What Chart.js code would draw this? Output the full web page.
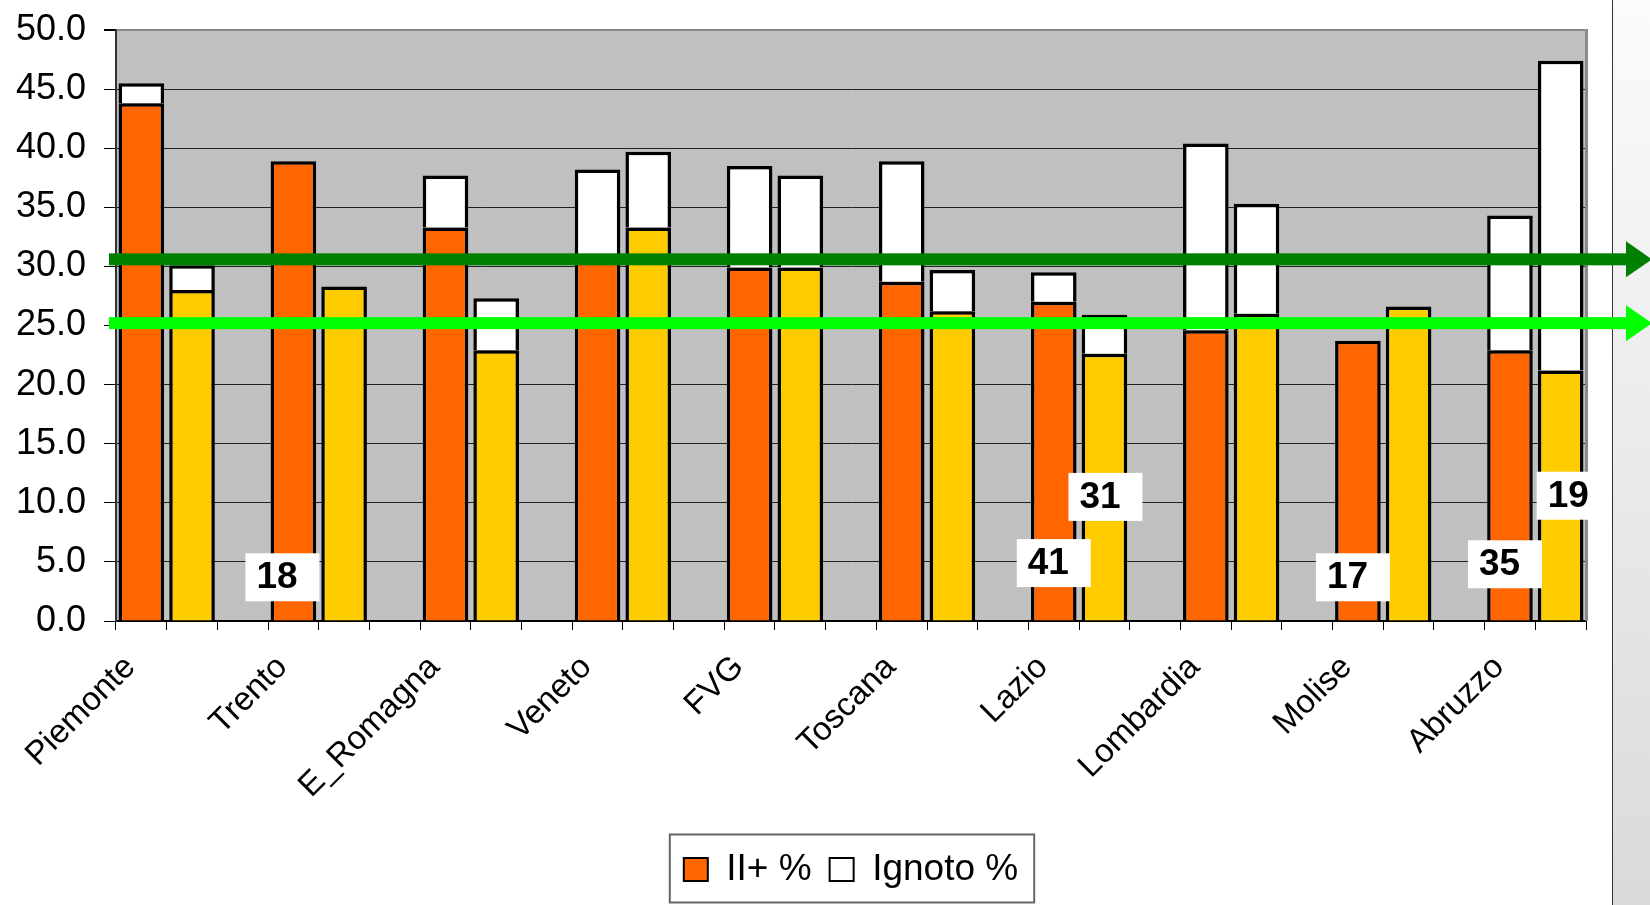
<!DOCTYPE html>
<html>
<head>
<meta charset="utf-8">
<title>II+ % / Ignoto %</title>
<script src="https://cdn.jsdelivr.net/npm/chart.js@4.4.0/dist/chart.umd.min.js"></script>
<style>
  html, body { margin: 0; padding: 0; background: #fff; }
  canvas { display: block; }
</style>
</head>
<body>
<canvas id="myChart" width="1650" height="905"></canvas>
<script>
// regions, two bars each (orange = first group, yellow = second group)
const regions = ['Piemonte', 'Trento', 'E_Romagna', 'Veneto', 'FVG', 'Toscana', 'Lazio', 'Lombardia', 'Molise', 'Abruzzo'];
const iiPlusOrange = [43.8, 38.9, 33.3, 30.6, 29.9, 28.7, 27.0, 24.6, 23.7, 22.9];
const iiPlusYellow = [28.0, 28.3, 22.9, 33.3, 29.9, 26.2, 22.6, 26.0, 26.6, 21.2];
const ignotoOrange = [1.7, 0, 4.4, 7.6, 8.6, 10.2, 2.5, 15.8, 0, 11.4];
const ignotoYellow = [2.1, 0, 4.4, 6.4, 7.8, 3.5, 3.3, 9.3, 0, 26.2];
const yTicks = [0, 5, 10, 15, 20, 25, 30, 35, 40, 45, 50];
const refLines = [30.6, 25.2];

// numbers in the white text boxes, and the bar they sit on
const boxTexts = ['18', '41', '31', '17', '35', '19'];
const boxRegion = ['Trento', 'Lazio', 'Lazio', 'Molise', 'Abruzzo', 'Abruzzo'];
const boxGroup = [0, 0, 1, 0, 0, 1];

// hand placement of those boxes (value for centre, px shift from bar centre)
const boxPlace = [[3.7, -11], [4.9, 0], [10.5, 1], [3.7, -5], [4.8, -5], [10.6, 13]];

const ORANGE = '#FF6600';
const YELLOW = '#FFCC00';
const FONT = "'Liberation Sans', Arial, sans-serif";

// 3 slots per region (orange, yellow, empty), no empty slot after the last one
var slotLabels = [], iiSlots = [], ignSlots = [], slotColors = [];
regions.forEach((r, i) => {
    slotLabels.push(r, '');
    iiSlots.push(iiPlusOrange[i], iiPlusYellow[i]);
    ignSlots.push(ignotoOrange[i], ignotoYellow[i]);
    slotColors.push(ORANGE, YELLOW);
    if (i < regions.length - 1) {
        slotLabels.push('');
        iiSlots.push(null);
        ignSlots.push(null);
        slotColors.push('rgba(0,0,0,0)');
    }
});

const decor = {
    id: 'decor',
    beforeDraw(chart) {
        const {ctx, chartArea: a, width, height} = chart;
        ctx.save();
        // slide edge on the right
        var g = ctx.createLinearGradient(0, 0, 0, height);
        g.addColorStop(0, '#fbfbfb');
        g.addColorStop(1, '#dadada');
        ctx.fillStyle = g;
        ctx.fillRect(1612, 0, width - 1612, height);
        ctx.fillStyle = '#333';
        ctx.fillRect(1612, 0, 1, height);
        // plot background
        ctx.fillStyle = '#C0C0C0';
        ctx.fillRect(a.left, a.top, a.right - a.left, a.bottom - a.top);
        ctx.restore();
    },
    beforeDatasetsDraw(chart) {
        const {ctx, chartArea: a} = chart;
        ctx.save();
        ctx.fillStyle = '#8a8a8a';
        ctx.fillRect(a.right - 1, a.top - 1, 3, a.bottom - a.top + 1);
        ctx.restore();
    },
    afterDatasetsDraw(chart) {
        const {ctx, chartArea: a, width} = chart;
        const xs = chart.scales.x, ys = chart.scales.y;
        ctx.save();
        // text boxes
        ctx.beginPath();
        ctx.rect(0, 0, a.right + 2, chart.height);
        ctx.clip();
        ctx.font = 'bold 37px ' + FONT;
        ctx.textBaseline = 'middle';
        ctx.textAlign = 'left';
        boxTexts.forEach((t, i) => {
            const slot = regions.indexOf(boxRegion[i]) * 3 + boxGroup[i];
            const cx = xs.getPixelForValue(slot) + boxPlace[i][1];
            const cy = ys.getPixelForValue(boxPlace[i][0]);
            ctx.fillStyle = '#fff';
            ctx.fillRect(cx - 37, cy - 24, 74, 48);
            ctx.fillStyle = '#000';
            ctx.fillText(t, cx - 26, cy + 1);
        });
        ctx.restore();

        // reference arrows
        ctx.save();
        const arrowColors = ['#008000', '#00FF00'];
        refLines.forEach((v, i) => {
            const y = ys.getPixelForValue(v);
            const x0 = a.left - 7, xHead = width - 24;
            ctx.fillStyle = arrowColors[i];
            ctx.fillRect(x0, y - 6, xHead - x0, 12);
            ctx.beginPath();
            ctx.moveTo(xHead, y - 18);
            ctx.lineTo(width + 2, y);
            ctx.lineTo(xHead, y + 18);
            ctx.closePath();
            ctx.fill();
        });
        ctx.restore();
    },
    afterDraw(chart) {
        // frame round the legend
        const boxes = chart.legend.legendHitBoxes;
        if (!boxes || !boxes.length) return;
        const first = boxes[0], last = boxes[boxes.length - 1];
        const cy = first.top + first.height / 2;
        const ctx = chart.ctx;
        ctx.save();
        ctx.strokeStyle = '#666';
        ctx.lineWidth = 2;
        ctx.strokeRect(first.left - 14, cy - 35, last.left + last.width + 16 - (first.left - 14), 68);
        ctx.restore();
    }
};

const data = {
    labels: slotLabels,
    datasets: [
        {
            label: 'II+ %',
            data: iiSlots,
            backgroundColor: slotColors,
            borderColor: '#000',
            borderWidth: 3.5,
            stack: 's'
        },
        {
            label: 'Ignoto %',
            data: ignSlots,
            backgroundColor: '#FFFFFF',
            borderColor: '#000',
            borderWidth: 3.5,
            stack: 's'
        }
    ]
};

const config = {
    type: 'bar',
    data: data,
    options: {
        responsive: false,
        animation: false,
        devicePixelRatio: 1,
        barPercentage: 0.9,
        categoryPercentage: 1,
        layout: { padding: { top: 30, right: 64, bottom: 7, left: 0 } },
        scales: {
            x: {
                stacked: true,
                afterFit: (s) => { s.height = 212; },
                border: { display: true, color: '#000', width: 2 },
                grid: {
                    offset: true,
                    drawOnChartArea: false,
                    drawTicks: true,
                    tickLength: 9,
                    tickColor: '#000',
                    color: '#000'
                },
                ticks: {
                    autoSkip: false,
                    minRotation: 45,
                    maxRotation: 45,
                    padding: 18,
                    labelOffset: -11,
                    color: '#000',
                    font: { family: FONT, size: 33 }
                }
            },
            y: {
                stacked: true,
                min: 0,
                max: 50,
                afterFit: (s) => {
                    s.width = 116;
                    // keep label overhang from pushing the plot down
                    s.paddingTop = 0;
                    s.paddingBottom = 0;
                },
                afterBuildTicks: (s) => { s.ticks = yTicks.map(v => ({ value: v })); },
                border: { display: true, color: '#333', width: 2 },
                grid: {
                    color: (c) => c.tick && c.tick.value === 50 ? '#8a8a8a' : '#222',
                    lineWidth: (c) => c.tick && c.tick.value === 50 ? 2 : 1,
                    tickLength: 12,
                    tickColor: '#000'
                },
                ticks: {
                    padding: 18,
                    color: '#000',
                    font: { family: FONT, size: 36 },
                    callback: (v) => Number(v).toFixed(1)
                }
            }
        },
        plugins: {
            tooltip: { enabled: false },
            legend: {
                position: 'bottom',
                fullSize: false,
                labels: {
                    boxWidth: 24,
                    boxHeight: 23,
                    padding: 18,
                    color: '#000',
                    font: { family: FONT, size: 37 },
                    generateLabels: (chart) => [
                        { text: chart.data.datasets[0].label, fillStyle: ORANGE, strokeStyle: '#000', lineWidth: 2, datasetIndex: 0, hidden: false },
                        { text: chart.data.datasets[1].label, fillStyle: '#FFFFFF', strokeStyle: '#000', lineWidth: 2, datasetIndex: 1, hidden: false }
                    ]
                }
            }
        }
    },
    plugins: [decor]
};

const ctx = document.getElementById('myChart');
var chart = new Chart(ctx, config);
</script>
</body>
</html>
